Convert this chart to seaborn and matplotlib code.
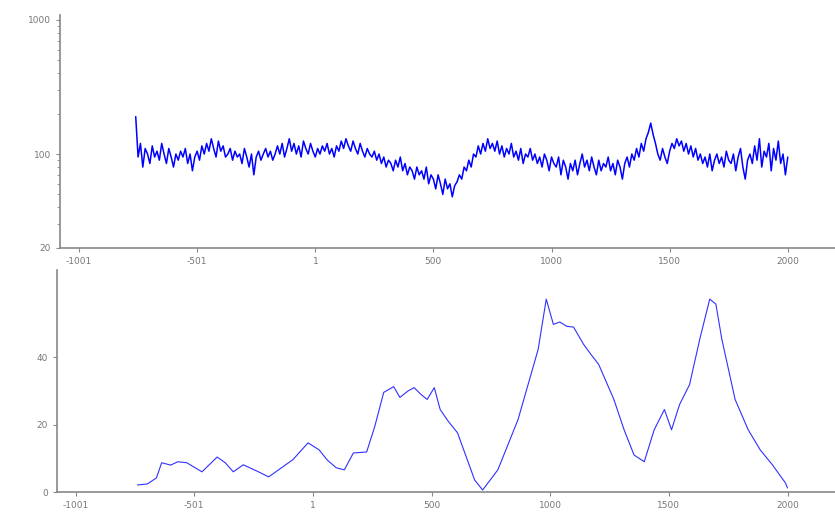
import matplotlib
matplotlib.use("Agg")
import matplotlib.pyplot as plt
import numpy as np
import seaborn as sns

# top panel: dense noisy series, one value every 10 positions from -760 to 2000
top_x = np.arange(-760, 2001, 10)
top_vals = [
    190, 95, 120, 80, 110, 100, 85, 115, 95, 105, 90, 120, 100, 85, 110, 95, 80, 100, 90, 105,
    95, 110, 85, 100, 75, 95, 105, 90, 115, 100, 120, 105, 130, 110, 95, 125, 105, 115, 95, 100,
    110, 90, 105, 95, 100, 85, 110, 95, 80, 100, 70, 95, 105, 90, 100, 110, 95, 105, 90, 100,
    115, 100, 120, 95, 110, 130, 105, 120, 100, 115, 95, 125, 110, 100, 120, 105, 95, 110, 100, 115,
    105, 120, 100, 110, 95, 115, 105, 125, 110, 130, 115, 105, 125, 110, 100, 120, 105, 95, 110, 100,
    95, 105, 90, 100, 85, 95, 80, 90, 85, 75, 90, 80, 95, 75, 85, 70, 80, 75, 65, 80,
    70, 75, 65, 80, 60, 70, 65, 55, 70, 60, 50, 65, 55, 60, 48, 58, 62, 70, 65, 80,
    75, 90, 80, 100, 95, 115, 100, 120, 105, 130, 110, 120, 105, 125, 100, 115, 95, 110, 100, 120,
    95, 105, 90, 110, 85, 100, 95, 110, 90, 100, 85, 95, 80, 100, 90, 75, 95, 85, 80, 95,
    70, 90, 80, 65, 85, 75, 90, 70, 85, 100, 80, 90, 75, 95, 80, 70, 90, 75, 85, 80,
    95, 75, 85, 70, 90, 80, 65, 85, 95, 80, 100, 90, 110, 95, 120, 105, 130, 145, 170, 140,
    120, 100, 90, 110, 95, 85, 105, 120, 110, 130, 115, 125, 105, 120, 100, 115, 95, 110, 90, 100,
    85, 95, 80, 100, 75, 90, 100, 85, 95, 80, 105, 90, 85, 100, 75, 95, 110, 80, 65, 90,
    100, 85, 115, 90, 130, 80, 105, 95, 120, 75, 110, 90, 125, 85, 100, 70, 95,
]

# bottom panel: smoother profile
bot_x = [-740, -698, -660, -638, -600, -570, -532, -468, -404, -370, -336, -294, -230, -187,
         -145, -85, -21, 26, 60, 98, 132, 170, 226, 260, 298, 340, 366, 400, 426, 455, 481, 511, 536,
         570, 609, 681, 715, 779, 864, 949, 983, 1013, 1040, 1070, 1098, 1140, 1170, 1204, 1268, 1311, 1353,
         1396, 1438, 1481, 1511, 1545, 1587, 1630, 1672, 1698, 1723, 1779, 1834, 1885,
         1936, 1991, 2000]
bot_vals = [2.1, 2.4, 4.2, 8.7, 8.0, 9.0, 8.7, 6.0, 10.4, 8.7, 6.0, 8.1, 6.0, 4.5,
            6.6, 9.6, 14.6, 12.5, 9.5, 7.2, 6.6, 11.6, 11.9, 19.4, 29.6, 31.3, 28.1, 30.0, 31.0, 29.0, 27.5, 31.0, 24.5,
            21.0, 17.6, 3.6, 0.6, 6.6, 21.5, 42.4, 57.3, 49.8, 50.5, 49.2, 49.0, 43.9, 41.0, 37.9, 27.5, 18.5, 11.0,
            9.0, 18.5, 24.5, 18.5, 26.0, 31.9, 45.4, 57.3, 55.8, 45.4, 27.5, 18.5, 12.5,
            8.1, 2.7, 1.2]

x_ticks = [-1001, -501, 1, 500, 1000, 1500, 2000]
x_labels = ["-1001", "-501", "1", "500", "1000", "1500", "2000"]
top_yticks = [20, 100, 1000]
bot_yticks = [0, 20, 40]

sns.set_style("ticks")
fig = plt.figure(figsize=(8.35, 5.12), dpi=100)
ax1 = fig.add_axes([0.072, 0.516, 0.928, 0.455])
ax2 = fig.add_axes([0.068, 0.039, 0.932, 0.434])

sns.lineplot(x=top_x, y=top_vals, ax=ax1, color="#0000ff", lw=1.1)
ax1.set_yscale("log")
ax1.set_ylim(20.5, 1090)
ax1.set_yticks(top_yticks)
ax1.set_yticklabels([str(v) for v in top_yticks])

sns.lineplot(x=bot_x, y=bot_vals, ax=ax2, color="#3030ff", lw=0.8)
ax2.set_ylim(0, 66)
ax2.set_yticks(bot_yticks)

for ax in (ax1, ax2):
    ax.set_xlim(-1080, 2200)
    ax.set_xticks(x_ticks)
    ax.set_xticklabels(x_labels)
    ax.set_xlabel("")
    ax.set_ylabel("")
    sns.despine(ax=ax)
    for s in ("left", "bottom"):
        ax.spines[s].set_color("#888888")
        ax.spines[s].set_linewidth(1.2)
    ax.tick_params(labelsize=6.5, colors="#888888", labelcolor="#777777", length=3)
    ax.tick_params(which="minor", colors="#888888", length=2)

fig.savefig("out.png", dpi=100)
